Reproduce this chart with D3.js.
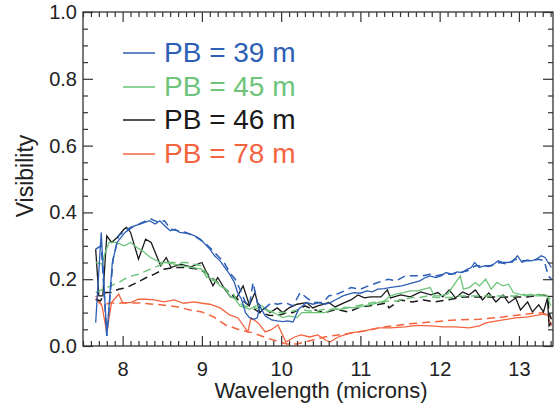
<!DOCTYPE html>
<html><head><meta charset="utf-8">
<script src="https://cdn.jsdelivr.net/npm/d3@7"></script>
<style>
body{margin:0;background:#fff;}
svg{display:block;font-family:"Liberation Sans",Arial,Helvetica,sans-serif;}
</style></head>
<body>
<svg id="chart" width="558" height="405"></svg>
<script>
// ---- data ----
const legendLabels = ["PB = 39 m", "PB = 45 m", "PB = 46 m", "PB = 78 m"];
const seriesColors = ["#2c5fb5", "#6dc47a", "#1a1a1a", "#f4643f"];
const xTickValues = [8, 9, 10, 11, 12, 13];
const yTickValues = [0, 0.2, 0.4, 0.6, 0.8, 1.0];

// PB = 39 m (solid = measured, dashed = second curve)
const pb39Solid = [[7.66,0.07],[7.73,0.34],[7.80,0.03],[7.87,0.25],[7.93,0.31],[8.03,0.34],[8.09,0.35],[8.15,0.36],[8.22,0.365],[8.28,0.37],[8.34,0.375],[8.41,0.365],[8.47,0.375],[8.53,0.36],[8.60,0.345],[8.66,0.35],[8.72,0.34],[8.79,0.338],[8.85,0.335],[8.91,0.33],[8.98,0.32],[9.04,0.305],[9.10,0.29],[9.16,0.27],[9.23,0.255],[9.29,0.235],[9.35,0.215],[9.41,0.19],[9.45,0.16],[9.50,0.14],[9.55,0.10],[9.60,0.085],[9.66,0.08],[9.70,0.085],[9.73,0.12],[9.80,0.09],[9.88,0.078],[9.95,0.075],[10.02,0.073],[10.08,0.075],[10.15,0.072],[10.22,0.11],[10.32,0.13],[10.40,0.125],[10.48,0.13],[10.55,0.125],[10.62,0.13],[10.70,0.14],[10.78,0.15],[10.85,0.155],[10.92,0.16],[11.0,0.158],[11.08,0.165],[11.15,0.162],[11.22,0.17],[11.30,0.172],[11.37,0.175],[11.45,0.178],[11.52,0.18],[11.60,0.185],[11.67,0.19],[11.75,0.195],[11.82,0.205],[11.88,0.21],[11.95,0.205],[12.02,0.21],[12.08,0.22],[12.15,0.215],[12.22,0.222],[12.28,0.22],[12.35,0.23],[12.40,0.235],[12.44,0.25],[12.50,0.235],[12.56,0.24],[12.62,0.238],[12.68,0.245],[12.74,0.255],[12.80,0.25],[12.86,0.25],[12.92,0.252],[12.98,0.27],[13.04,0.25],[13.10,0.258],[13.16,0.255],[13.22,0.26],[13.28,0.27],[13.33,0.265],[13.37,0.25],[13.41,0.235]];
const pb39Dashed = [[7.66,0.29],[7.73,0.30],[7.80,0.03],[7.88,0.26],[7.95,0.33],[8.03,0.345],[8.10,0.355],[8.20,0.365],[8.30,0.375],[8.36,0.38],[8.45,0.37],[8.53,0.375],[8.60,0.35],[8.70,0.345],[8.80,0.34],[8.90,0.33],[9.00,0.315],[9.10,0.295],[9.20,0.27],[9.28,0.25],[9.35,0.22],[9.42,0.20],[9.48,0.17],[9.55,0.13],[9.60,0.12],[9.645,0.19],[9.70,0.13],[9.78,0.11],[9.88,0.13],[9.95,0.125],[10.05,0.13],[10.15,0.12],[10.24,0.16],[10.32,0.145],[10.40,0.13],[10.48,0.13],[10.53,0.13],[10.60,0.15],[10.70,0.155],[10.80,0.165],[10.88,0.175],[11.0,0.17],[11.1,0.18],[11.22,0.19],[11.35,0.20],[11.45,0.195],[11.57,0.21],[11.68,0.21],[11.78,0.21],[11.88,0.215],[11.95,0.21],[12.05,0.215],[12.15,0.215],[12.25,0.22],[12.35,0.225],[12.45,0.24],[12.55,0.24],[12.65,0.24],[12.75,0.25],[12.85,0.245],[12.95,0.26],[13.05,0.255],[13.15,0.255],[13.25,0.26],[13.32,0.255],[13.37,0.21],[13.41,0.20]];

// PB = 45 m
const pb45Solid = [[7.66,0.25],[7.74,0.245],[7.78,0.28],[7.83,0.31],[7.92,0.31],[8.02,0.30],[8.10,0.31],[8.18,0.295],[8.25,0.285],[8.35,0.265],[8.48,0.25],[8.55,0.25],[8.65,0.245],[8.75,0.24],[8.88,0.235],[9.00,0.23],[9.06,0.205],[9.15,0.20],[9.23,0.18],[9.30,0.17],[9.35,0.15],[9.42,0.14],[9.48,0.12],[9.55,0.115],[9.60,0.11],[9.68,0.12],[9.76,0.12],[9.83,0.105],[9.90,0.10],[9.95,0.095],[10.02,0.085],[10.10,0.09],[10.20,0.085],[10.26,0.10],[10.35,0.10],[10.45,0.10],[10.55,0.10],[10.65,0.11],[10.75,0.11],[10.85,0.115],[10.95,0.115],[11.05,0.12],[11.15,0.125],[11.22,0.13],[11.30,0.135],[11.38,0.15],[11.45,0.155],[11.55,0.16],[11.62,0.165],[11.72,0.165],[11.80,0.17],[11.88,0.175],[11.93,0.15],[12.00,0.15],[12.10,0.155],[12.20,0.19],[12.26,0.21],[12.30,0.17],[12.37,0.175],[12.45,0.19],[12.50,0.18],[12.58,0.20],[12.65,0.17],[12.72,0.19],[12.80,0.18],[12.87,0.185],[12.93,0.16],[13.00,0.155],[13.08,0.15],[13.15,0.155],[13.22,0.15],[13.30,0.15],[13.36,0.15],[13.40,0.12]];
const pb45Dashed = [[7.66,0.16],[7.75,0.17],[7.85,0.18],[7.95,0.19],[8.02,0.20],[8.12,0.21],[8.20,0.215],[8.30,0.225],[8.40,0.235],[8.50,0.245],[8.60,0.25],[8.70,0.25],[8.80,0.25],[8.90,0.245],[9.00,0.24],[9.10,0.20],[9.20,0.19],[9.30,0.17],[9.40,0.155],[9.45,0.13],[9.55,0.12],[9.65,0.115],[9.75,0.11],[9.85,0.105],[9.95,0.10],[10.05,0.10],[10.15,0.105],[10.25,0.11],[10.35,0.105],[10.45,0.105],[10.55,0.11],[10.65,0.11],[10.75,0.115],[10.85,0.115],[10.95,0.12],[11.05,0.125],[11.15,0.13],[11.25,0.13],[11.35,0.135],[11.45,0.135],[11.55,0.14],[11.65,0.145],[11.75,0.145],[11.85,0.15],[11.95,0.145],[12.05,0.145],[12.15,0.145],[12.25,0.15],[12.35,0.15],[12.45,0.15],[12.55,0.15],[12.65,0.15],[12.75,0.15],[12.85,0.15],[12.95,0.15],[13.05,0.155],[13.15,0.15],[13.25,0.155],[13.35,0.15],[13.40,0.14]];

// PB = 46 m
const pb46Solid = [[7.66,0.29],[7.70,0.15],[7.75,0.15],[7.80,0.33],[7.86,0.31],[7.93,0.325],[8.02,0.35],[8.05,0.355],[8.10,0.34],[8.20,0.26],[8.29,0.32],[8.36,0.31],[8.48,0.24],[8.55,0.265],[8.61,0.235],[8.73,0.245],[8.86,0.237],[9.00,0.25],[9.06,0.22],[9.14,0.18],[9.20,0.205],[9.29,0.17],[9.36,0.147],[9.44,0.145],[9.52,0.18],[9.60,0.122],[9.67,0.16],[9.73,0.10],[9.79,0.114],[9.86,0.10],[9.95,0.114],[10.02,0.10],[10.10,0.114],[10.20,0.125],[10.32,0.13],[10.40,0.114],[10.46,0.12],[10.52,0.124],[10.60,0.13],[10.68,0.117],[10.80,0.13],[10.88,0.138],[10.97,0.153],[11.05,0.144],[11.13,0.147],[11.26,0.147],[11.34,0.168],[11.38,0.144],[11.51,0.153],[11.63,0.147],[11.76,0.162],[11.89,0.153],[11.98,0.16],[12.04,0.147],[12.12,0.168],[12.20,0.144],[12.29,0.162],[12.37,0.153],[12.45,0.168],[12.54,0.138],[12.62,0.159],[12.71,0.132],[12.80,0.153],[12.87,0.129],[12.96,0.144],[13.02,0.108],[13.11,0.132],[13.17,0.102],[13.25,0.123],[13.31,0.102],[13.36,0.144],[13.38,0.06],[13.41,0.07]];
const pb46Dashed = [[7.66,0.14],[7.72,0.135],[7.78,0.16],[7.85,0.16],[7.95,0.17],[8.05,0.175],[8.18,0.19],[8.30,0.205],[8.40,0.215],[8.52,0.23],[8.65,0.235],[8.80,0.235],[8.95,0.23],[9.05,0.22],[9.15,0.20],[9.25,0.18],[9.35,0.16],[9.45,0.14],[9.52,0.135],[9.60,0.12],[9.73,0.10],[9.85,0.092],[9.95,0.09],[10.05,0.098],[10.15,0.10],[10.30,0.12],[10.40,0.11],[10.55,0.10],[10.70,0.11],[10.85,0.102],[11.00,0.117],[11.20,0.123],[11.33,0.129],[11.36,0.114],[11.50,0.138],[11.65,0.132],[11.80,0.138],[11.94,0.132],[12.10,0.138],[12.30,0.147],[12.50,0.147],[12.70,0.147],[12.90,0.147],[13.10,0.147],[13.30,0.153],[13.36,0.15],[13.38,0.10],[13.41,0.08]];

// PB = 78 m
const pb78Solid = [[7.66,0.15],[7.74,0.12],[7.80,0.04],[7.86,0.13],[7.95,0.155],[8.00,0.13],[8.10,0.13],[8.20,0.14],[8.30,0.14],[8.40,0.138],[8.52,0.132],[8.65,0.138],[8.77,0.128],[8.90,0.132],[9.00,0.128],[9.10,0.125],[9.23,0.114],[9.35,0.093],[9.455,0.084],[9.58,0.042],[9.62,0.084],[9.71,0.069],[9.80,0.042],[9.87,0.048],[9.96,0.063],[10.06,0.012],[10.17,0.027],[10.25,0.033],[10.36,0.027],[10.46,0.033],[10.56,0.018],[10.615,0.012],[10.72,0.027],[10.88,0.039],[11.05,0.045],[11.22,0.054],[11.38,0.054],[11.56,0.057],[11.72,0.062],[11.89,0.06],[12.05,0.057],[12.20,0.057],[12.37,0.054],[12.50,0.06],[12.58,0.069],[12.80,0.078],[12.96,0.084],[13.12,0.087],[13.25,0.093],[13.34,0.096],[13.40,0.084]];
const pb78Dashed = [[7.66,0.14],[7.74,0.123],[7.85,0.129],[8.00,0.129],[8.20,0.129],[8.35,0.126],[8.50,0.123],[8.70,0.117],[8.85,0.108],[9.00,0.102],[9.15,0.087],[9.30,0.063],[9.48,0.048],[9.65,0.039],[9.82,0.024],[9.98,0.012],[10.07,0.006],[10.20,0.006],[10.35,0.015],[10.55,0.027],[10.80,0.036],[11.05,0.045],[11.30,0.057],[11.60,0.066],[11.90,0.072],[12.20,0.078],[12.50,0.08],[12.80,0.087],[13.10,0.096],[13.30,0.10],[13.37,0.085],[13.41,0.06]];

const solidSeries = [pb39Solid, pb45Solid, pb46Solid, pb78Solid];
const dashedSeries = [pb39Dashed, pb45Dashed, pb46Dashed, pb78Dashed];

// ---- drawing ----
const svg = d3.select("#chart");
const L = 83, R = 553, T = 12, B = 346;
const x = d3.scaleLinear().domain([7.5, 13.43]).range([L, R]);
const y = d3.scaleLinear().domain([0, 1]).range([B, T]);
const axisColor = "#333";

svg.append("defs").append("clipPath").attr("id","clip")
  .append("rect").attr("x",L).attr("y",T).attr("width",R-L).attr("height",B-T);

const line = d3.line().x(d=>x(d[0])).y(d=>y(d[1]));
const g = svg.append("g").attr("clip-path","url(#clip)");
// draw in reverse order so blue is on top
for (let i = 3; i >= 0; i--) {
  g.append("path").datum(dashedSeries[i]).attr("d", line)
    .attr("fill","none").attr("stroke",seriesColors[i]).attr("stroke-width",1.5)
    .attr("stroke-dasharray","8,5");
  g.append("path").datum(solidSeries[i]).attr("d", line)
    .attr("fill","none").attr("stroke",seriesColors[i]).attr("stroke-width",1.3);
}

// frame
svg.append("rect").attr("x",L).attr("y",T).attr("width",R-L).attr("height",B-T)
  .attr("fill","none").attr("stroke",axisColor).attr("stroke-width",1.3);

// axes with inward ticks (major + minor)
const xMinor = d3.range(7.5, 13.43, 0.1).filter(v => Math.abs(v - Math.round(v)) > 1e-6);
const yMinor = d3.range(0.05, 1, 0.05).filter(v => Math.abs(v*5 - Math.round(v*5)) > 1e-6);

function addAxis(axisGen, transform){
  const a = svg.append("g").attr("transform", transform).call(axisGen);
  a.select(".domain").remove();
  a.selectAll("line").attr("stroke",axisColor).attr("stroke-width",1.2);
  return a;
}
// bottom
addAxis(d3.axisBottom(x).tickValues(xTickValues).tickSize(-10).tickFormat(d3.format("d")).tickPadding(16), `translate(0,${B})`)
  .selectAll("text").attr("font-size",20).attr("fill","#222");
addAxis(d3.axisBottom(x).tickValues(xMinor).tickSize(-5).tickFormat(""), `translate(0,${B})`);
// top
addAxis(d3.axisTop(x).tickValues(xTickValues).tickSize(-10).tickFormat(""), `translate(0,${T})`);
addAxis(d3.axisTop(x).tickValues(xMinor).tickSize(-5).tickFormat(""), `translate(0,${T})`);
// left
addAxis(d3.axisLeft(y).tickValues(yTickValues).tickSize(-10).tickFormat(d3.format(".1f")).tickPadding(6), `translate(${L},0)`)
  .selectAll("text").attr("font-size",20).attr("fill","#222");
addAxis(d3.axisLeft(y).tickValues(yMinor).tickSize(-5).tickFormat(""), `translate(${L},0)`);
// right
addAxis(d3.axisRight(y).tickValues(yTickValues).tickSize(-10).tickFormat(""), `translate(${R},0)`);
addAxis(d3.axisRight(y).tickValues(yMinor).tickSize(-5).tickFormat(""), `translate(${R},0)`);

// axis titles
svg.append("text").attr("x",321).attr("y",398).attr("text-anchor","middle")
  .attr("font-size",22).attr("fill","#222").text("Wavelength (microns)");
svg.append("text").attr("transform",`translate(33,176) rotate(-90)`)
  .attr("text-anchor","middle").attr("font-size",23).attr("fill","#222").text("Visibility");

// legend
const legendBase = [62, 96, 129, 163];
legendLabels.forEach((lab, i) => {
  svg.append("line").attr("x1",123).attr("x2",155)
    .attr("y1",legendBase[i]-9).attr("y2",legendBase[i]-9)
    .attr("stroke",seriesColors[i]).attr("stroke-width",1.5);
  svg.append("text").attr("x",164).attr("y",legendBase[i])
    .attr("font-size",28).attr("fill",seriesColors[i]).text(lab);
});
</script>
</body></html>
